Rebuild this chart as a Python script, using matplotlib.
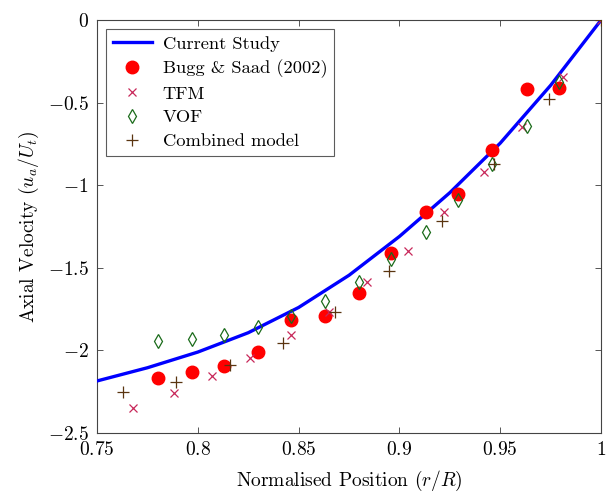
import matplotlib.pyplot as plt
from matplotlib.ticker import FuncFormatter

plt.rcParams["font.family"] = "serif"
plt.rcParams["font.serif"] = ["cmr10"]
plt.rcParams["mathtext.fontset"] = "cm"
plt.rcParams["axes.formatter.use_mathtext"] = True
plt.rcParams["font.size"] = 14

# current study (solid line)
study_x = [0.75, 0.775, 0.80, 0.825, 0.85, 0.875, 0.90, 0.925, 0.95, 0.975, 1.0]
study_y = [-2.185, -2.105, -2.010, -1.893, -1.740, -1.545, -1.310, -1.045,
           -0.745, -0.395, 0.0]

# Bugg & Saad (2002)
bugg_x = [0.780, 0.797, 0.813, 0.830, 0.846, 0.863, 0.880, 0.896, 0.913,
          0.929, 0.946, 0.963, 0.979]
bugg_y = [-2.167, -2.13, -2.094, -2.01, -1.816, -1.79, -1.653, -1.408,
          -1.162, -1.053, -0.787, -0.418, -0.41]

# TFM
tfm_x = [0.768, 0.788, 0.807, 0.826, 0.846, 0.865, 0.884, 0.904, 0.922,
         0.942, 0.961, 0.981, 1.0]
tfm_y = [-2.347, -2.258, -2.157, -2.048, -1.907, -1.766, -1.586, -1.396,
         -1.16, -0.92, -0.65, -0.347, 0.0]

# VOF
vof_x = [0.780, 0.797, 0.813, 0.830, 0.846, 0.863, 0.880, 0.896, 0.913,
         0.929, 0.946, 0.963, 0.979]
vof_y = [-1.943, -1.931, -1.909, -1.856, -1.794, -1.699, -1.586, -1.445,
         -1.281, -1.090, -0.874, -0.642, -0.377]

# Combined model
comb_x = [0.763, 0.789, 0.816, 0.842, 0.868, 0.895, 0.921, 0.947, 0.974, 1.0]
comb_y = [-2.250, -2.189, -2.088, -1.957, -1.768, -1.517, -1.215, -0.874,
          -0.480, 0.0]

fig = plt.figure(figsize=(6.14, 4.93), dpi=100)
ax = fig.add_axes([0.158, 0.1217, 0.821, 0.8377])

ax.plot(study_x, study_y, color="#0000ff", linewidth=2.4, label="Current Study",
        zorder=3, solid_joinstyle="round")
ax.plot(bugg_x, bugg_y, "o", color="#ff0000", markersize=9,
        label="Bugg & Saad (2002)", zorder=4)
ax.plot(tfm_x, tfm_y, "x", color="#c8285a", markersize=6, markeredgewidth=0.9,
        label="TFM", zorder=5)
ax.plot(vof_x, vof_y, "d", color="#1a6b1a", markerfacecolor="none",
        markersize=7, markeredgewidth=0.9, label="VOF", zorder=5)
ax.plot(comb_x, comb_y, "+", color="#5a3510", markersize=8,
        markeredgewidth=0.9, label="Combined model", zorder=5)

ax.set_xlim(0.75, 1.0)
ax.set_ylim(-2.5, 0)
ax.set_xticks([0.75, 0.8, 0.85, 0.9, 0.95, 1.0])
ax.set_yticks([-2.5, -2, -1.5, -1, -0.5, 0])
fmt = FuncFormatter(lambda v, p: f"${v:g}$")
ax.xaxis.set_major_formatter(fmt)
ax.yaxis.set_major_formatter(fmt)
ax.tick_params(direction="in", length=4, width=0.7, color="#555555",
               top=True, right=True, labelsize=14, pad=6)
for s in ax.spines.values():
    s.set_color("#444444")
    s.set_linewidth(0.8)

ax.set_xlabel("Normalised Position ($r/R$)", fontsize=14, labelpad=7)
ax.set_ylabel("Axial Velocity ($u_a/U_t$)", fontsize=14, labelpad=5)

leg = ax.legend(loc="upper left", fontsize=13.3, frameon=True, fancybox=False,
                edgecolor="#333333", handlelength=2.1, borderpad=0.35,
                labelspacing=0.42, borderaxespad=0.5, handletextpad=0.6)
leg.get_frame().set_linewidth(0.8)

fig.savefig("out.png", dpi=100)
